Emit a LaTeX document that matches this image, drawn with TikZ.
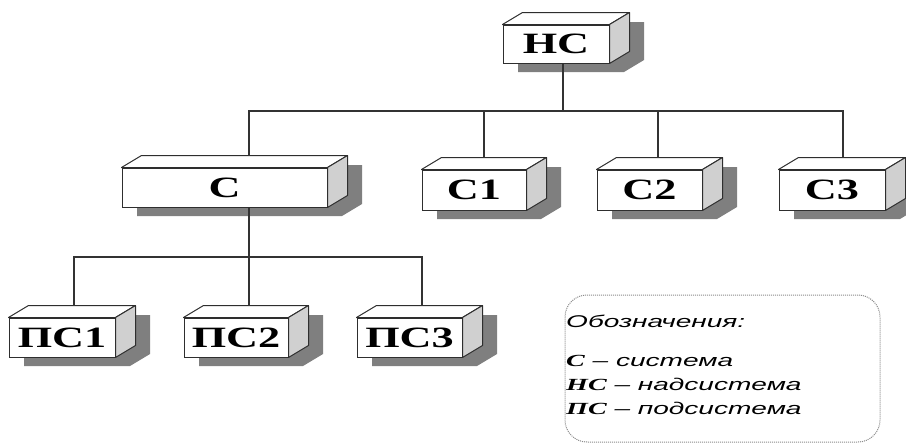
\documentclass[tikz,border=0pt]{standalone}
\usepackage{fontspec}
\setmainfont{Liberation Serif}
\setsansfont{Liberation Sans}
\usetikzlibrary{calc}

\definecolor{edgec}{HTML}{2E2E2E}
\definecolor{sidec}{HTML}{D0D0D0}
\definecolor{shadowc}{HTML}{7F7F7F}
\definecolor{linkc}{HTML}{333333}
\definecolor{framec}{HTML}{8A8A8A}

\tikzset{
  cubefront/.style={draw=edgec, fill=white, line width=1pt, inner sep=0pt,
    font=\bfseries\fontsize{29.5}{29.5}\selectfont},
  cubeface/.style={draw=edgec, line width=1pt, line join=round},
  link/.style={draw=linkc, line width=1.3pt},
  legendframe/.style={draw=framec, line width=1pt, dash pattern=on 1pt off 1pt,
    rounded corners=22pt, inner sep=0pt},
  legendtext/.style={anchor=base west, inner sep=0pt,
    font=\sffamily\itshape\fontsize{17}{17}\selectfont},
}

% wide lettering
\newcommand\wideT[1]{\scalebox{1.5}[1]{#1}}
\newcommand\wideL[1]{\scalebox{1.65}[1]{#1}}
\newcommand\sym[1]{{\rmfamily\bfseries\itshape #1}}

% box with depth: name, x1, y1, x2, y2 (front face), label
\newcommand\cubebox[6]{%
  \fill[shadowc] ({#2+15},{#5+9}) -- ({#2+15},{#3+9}) -- ({#2+35},{#3-3})
    -- ({#4+35},{#3-3}) -- ({#4+35},{#5-3}) -- ({#4+15},{#5+9}) -- cycle;
  \node[cubefront, minimum width={(#4-#2)*1pt}, minimum height={(#5-#3)*1pt}]
    (#1) at ({(#2+#4)/2},{(#3+#5)/2}) {\wideT{#6}};
  \draw[cubeface, fill=white] (#1.north west) -- ++(20,-12)
    -- ($(#1.north east)+(20,-12)$) -- (#1.north east) -- cycle;
  \draw[cubeface, fill=sidec] (#1.north east) -- ++(20,-12)
    -- ($(#1.south east)+(20,-12)$) -- (#1.south east) -- cycle;
}

\begin{document}
\begin{tikzpicture}[x=1pt, y=-1pt]
  \useasboundingbox (0,0) rectangle (906,445);

  % boxes
  \cubebox{hc}{503}{25}{609}{63}{НС}
  \cubebox{c}{122}{168}{327}{207}{С}
  \cubebox{c1}{422}{170}{526}{210}{С1}
  \cubebox{c2}{597}{170}{702}{210}{С2}
  \cubebox{c3}{779}{170}{885}{210}{С3}
  \cubebox{ps1}{9}{318}{115}{357}{ПС1}
  \cubebox{ps2}{184}{318}{288}{357}{ПС2}
  \cubebox{ps3}{357}{318}{462}{357}{ПС3}

  % attachment points on the top faces
  \coordinate (c-top)   at ([xshift=24.5pt,yshift=12pt]c.north);
  \coordinate (c1-top)  at ([xshift=10pt,yshift=12pt]c1.north);
  \coordinate (c2-top)  at ([xshift=8.5pt,yshift=12pt]c2.north);
  \coordinate (c3-top)  at ([xshift=11pt,yshift=12pt]c3.north);
  \coordinate (ps1-top) at ([xshift=12pt,yshift=12pt]ps1.north);
  \coordinate (ps2-top) at ([xshift=13pt,yshift=12pt]ps2.north);
  \coordinate (ps3-top) at ([xshift=12.5pt,yshift=12pt]ps3.north);

  % bus junctions
  \coordinate (b0) at (563,111);
  \coordinate (b1) at (249,257);

  % upper level
  \draw[link] ([xshift=7pt]hc.south) -- (b0);
  \draw[link] (c-top) |- (b0) -| (c3-top);
  \draw[link] (c1-top) -- (c1-top |- b0);
  \draw[link] (c2-top) -- (c2-top |- b0);

  % lower level
  \draw[link] ([xshift=24.5pt]c.south) -- (b1);
  \draw[link] (ps1-top) |- (b1) -| (ps3-top);
  \draw[link] (ps2-top) -- (ps2-top |- b1);

  % legend
  \node[legendframe, minimum width=315pt, minimum height=147pt] (legend) at (722.5,368.5) {};
  \node[legendtext] (lg0) at (566,327) {\wideL{Обозначения:}};
  \node[legendtext] (lg1) at (566,366) {\wideL{\sym{С} – система}};
  \node[legendtext] (lg2) at (566,390) {\wideL{\sym{НС} – надсистема}};
  \node[legendtext] (lg3) at (566,414) {\wideL{\sym{ПС} – подсистема}};
\end{tikzpicture}
\end{document}
